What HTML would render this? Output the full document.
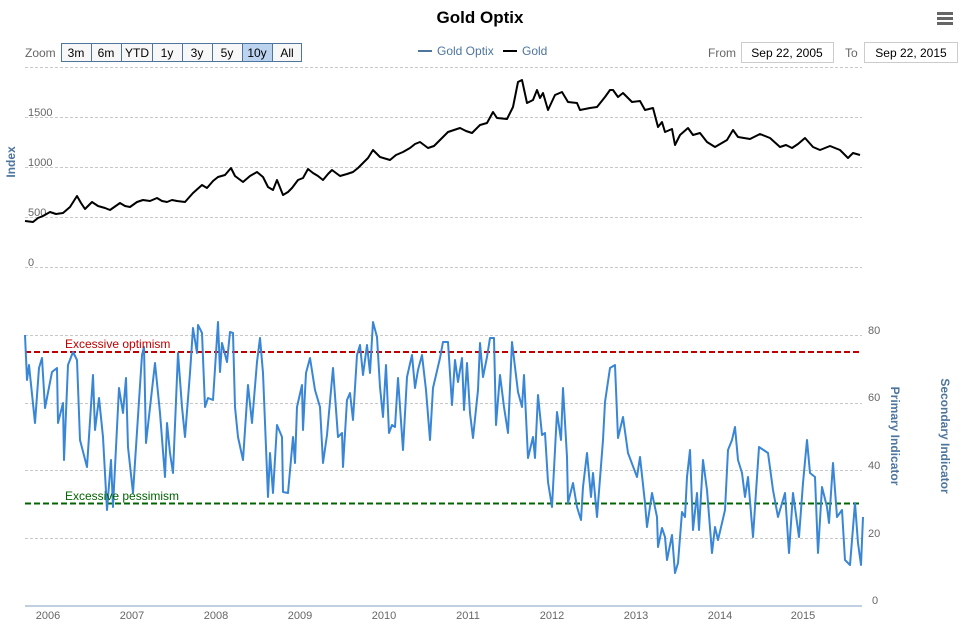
<!DOCTYPE html>
<html><head><meta charset="utf-8"><style>
body{margin:0;background:#fff;font-family:"Liberation Sans",Arial,sans-serif}
svg text{font-family:"Liberation Sans",Arial,sans-serif}
</style></head><body>
<svg width="962" height="626" xmlns="http://www.w3.org/2000/svg">
<rect width="962" height="626" fill="#fff"/>
<text x="480" y="23" text-anchor="middle" font-size="17" font-weight="bold" fill="#000">Gold Optix</text>
<g fill="#666"><rect x="937" y="12" width="16" height="3"/><rect x="937" y="17" width="16" height="3"/><rect x="937" y="22" width="16" height="3"/></g>
<text x="25" y="57" font-size="12" fill="#666">Zoom</text>
<g font-size="12" fill="#000" text-anchor="middle">
<rect x="61.5" y="43.5" width="240" height="18" fill="#f7f7f7" stroke="#4d759e"/>
<rect x="242" y="44" width="30" height="17" fill="#bcd3f0"/>
<g stroke="#4d759e"><line x1="91.5" y1="44" x2="91.5" y2="61"/><line x1="121.5" y1="44" x2="121.5" y2="61"/><line x1="152.5" y1="44" x2="152.5" y2="61"/><line x1="182.5" y1="44" x2="182.5" y2="61"/><line x1="212.5" y1="44" x2="212.5" y2="61"/><line x1="242.5" y1="44" x2="242.5" y2="61"/><line x1="272.5" y1="44" x2="272.5" y2="61"/></g>
<text x="76" y="57">3m</text><text x="106" y="57">6m</text><text x="137" y="57">YTD</text><text x="167" y="57">1y</text><text x="197" y="57">3y</text><text x="227" y="57">5y</text><text x="257" y="57">10y</text><text x="287" y="57">All</text>
</g>
<line x1="418" y1="51" x2="432" y2="51" stroke="#4d759e" stroke-width="2"/>
<text x="437" y="55" font-size="12" fill="#4d759e">Gold Optix</text>
<line x1="503" y1="51" x2="517" y2="51" stroke="#000" stroke-width="2"/>
<text x="522" y="55" font-size="12" fill="#4d759e">Gold</text>
<text x="708" y="57" font-size="12" fill="#666">From</text>
<rect x="741.5" y="42.5" width="92" height="20" fill="#fff" stroke="#ccc"/>
<text x="787" y="57" font-size="12" text-anchor="middle" fill="#000">Sep 22, 2005</text>
<text x="845" y="57" font-size="12" fill="#666">To</text>
<rect x="864.5" y="42.5" width="93" height="20" fill="#fff" stroke="#ccc"/>
<text x="911" y="57" font-size="12" text-anchor="middle" fill="#000">Sep 22, 2015</text>

<g stroke="#c8c8c8" stroke-dasharray="3,2" stroke-width="1">
<line x1="25" y1="67.5" x2="862" y2="67.5"/><line x1="25" y1="117.5" x2="862" y2="117.5"/><line x1="25" y1="167.5" x2="862" y2="167.5"/><line x1="25" y1="217.5" x2="862" y2="217.5"/><line x1="25" y1="267.5" x2="862" y2="267.5"/>
<line x1="25" y1="335.5" x2="862" y2="335.5"/><line x1="25" y1="403.5" x2="862" y2="403.5"/><line x1="25" y1="470.5" x2="862" y2="470.5"/><line x1="25" y1="538.5" x2="862" y2="538.5"/>
</g>
<line x1="25" y1="606" x2="862" y2="606" stroke="#c0d0e0" stroke-width="2"/>
<g font-size="11" fill="#666">
<text x="28" y="116">1500</text><text x="28" y="166">1000</text><text x="28" y="216">500</text><text x="28" y="266">0</text>
<text x="868" y="334">80</text><text x="868" y="401">60</text><text x="868" y="469">40</text><text x="868" y="537">20</text><text x="872" y="604">0</text>
</g>
<g font-size="11" fill="#666" text-anchor="middle">
<text x="48" y="619">2006</text><text x="132" y="619">2007</text><text x="216" y="619">2008</text><text x="300" y="619">2009</text><text x="384" y="619">2010</text><text x="468" y="619">2011</text><text x="552" y="619">2012</text><text x="636" y="619">2013</text><text x="720" y="619">2014</text><text x="803" y="619">2015</text>
</g>
<text transform="translate(15,162) rotate(-90)" text-anchor="middle" font-size="12" font-weight="bold" fill="#4d759e">Index</text>
<text transform="translate(891,436) rotate(90)" text-anchor="middle" font-size="12" font-weight="bold" fill="#4d759e">Primary Indicator</text>
<text transform="translate(941,436) rotate(90)" text-anchor="middle" font-size="12" font-weight="bold" fill="#4d759e">Secondary Indicator</text>

<line x1="25" y1="352" x2="862" y2="352" stroke="#c00000" stroke-width="2" stroke-dasharray="6,3"/>
<line x1="25" y1="503.5" x2="862" y2="503.5" stroke="#006400" stroke-width="2" stroke-dasharray="6,3"/>

<polyline id="optix" fill="none" stroke="#3a86d6" stroke-width="2" stroke-linejoin="round" points="25,335 27,380 29,365 35,423 39,368 42,358 45,408 52,372 57,368 58,423 63,403 64,460 68,365 73,352 77,360 80,440 87,467 93,375 95,430 99,398 103,437 107,510 111,460 113,507 119,388 123,413 126,378 128,447 133,493 142,355 144,347 146,443 155,363 160,413 165,477 167,423 170,453 173,473 178,353 182,407 185,437 190,373 193,328 197,353 198,325 202,333 205,407 208,398 213,400 218,322 220,372 222,343 227,362 230,332 233,333 235,407 238,437 243,460 248,385 252,423 257,362 260,338 263,373 268,497 270,453 273,493 277,425 282,437 283,492 288,493 293,437 295,463 297,407 302,385 303,430 306,373 310,358 315,390 320,407 323,463 327,435 333,368 338,437 342,433 343,467 347,400 350,393 353,420 357,355 360,345 363,375 367,345 370,373 373,322 377,337 380,387 383,417 386,365 389,433 392,425 395,427 398,378 403,450 407,377 412,355 415,388 418,370 422,355 426,390 430,440 433,388 440,358 443,342 448,342 452,405 455,360 458,382 462,358 464,410 467,363 470,413 473,438 478,390 480,343 483,377 487,357 490,338 494,338 496,425 500,375 504,407 508,433 512,342 518,392 522,407 524,375 528,458 533,437 535,458 538,395 542,435 545,433 548,482 552,507 555,450 557,412 561,440 563,388 567,457 568,503 573,483 577,507 581,520 583,487 587,453 591,497 593,473 597,517 603,440 605,402 610,368 615,365 618,438 623,417 628,453 637,477 640,457 645,503 647,527 652,493 657,517 658,547 662,528 665,537 667,560 672,535 675,573 678,563 682,512 685,517 687,477 690,450 693,530 697,493 699,530 703,460 707,490 712,553 715,527 718,540 722,523 725,510 728,450 732,440 735,427 738,460 742,473 745,497 748,477 753,537 759,447 768,453 773,490 778,517 785,493 789,553 793,493 799,537 803,483 807,440 810,473 815,477 818,553 822,487 827,507 829,523 833,463 837,517 842,510 845,560 850,565 855,503 858,543 861,565 863,517"/>

<polyline id="gold" fill="none" stroke="#000" stroke-width="2" stroke-linejoin="round" points="25,221 33,222 38,218 43,216 50,212 56,214 63,213 70,207 77,196 81,203 85,209 92,202 98,206 105,208 110,210 120,203 125,206 130,207 137,202 143,200 150,201 157,198 162,201 167,202 172,200 177,201 185,202 193,193 202,185 207,188 213,181 218,177 225,175 231,168 235,176 243,182 250,176 257,172 263,177 268,187 273,190 277,180 283,195 288,192 292,188 298,180 303,178 308,169 313,173 318,176 323,180 328,174 332,170 340,176 347,174 353,172 358,168 363,163 368,158 373,150 380,157 390,160 396,155 403,152 410,148 415,144 420,142 428,148 434,146 440,140 448,132 454,130 460,128 466,131 472,133 480,125 487,123 493,112 497,118 507,119 513,107 518,82 522,80 527,103 533,100 537,90 540,98 543,93 548,110 555,95 562,92 568,102 577,103 580,110 590,108 597,107 605,97 610,90 613,90 618,97 623,93 632,102 640,101 645,110 653,108 658,127 662,122 665,132 672,129 675,145 680,135 688,128 693,135 700,133 707,142 715,147 727,140 733,130 738,137 750,139 760,134 770,138 780,147 786,145 792,148 798,144 805,138 813,147 820,150 830,146 840,150 848,158 853,153 860,155"/>

<text x="65" y="348" font-size="12" fill="#c00000">Excessive optimism</text>
<text x="65" y="500" font-size="12" fill="#006400">Excessive pessimism</text>
<script>
(function(){
var s=12345;function r(){s=(s*1103515245+12345)%2147483648;return s/2147483648-0.5;}
function rough(id,amp,step){
var el=document.getElementById(id);
var p=el.getAttribute('points').trim().split(/\s+/).map(function(t){return t.split(',').map(Number);});
var out=[];
for(var i=0;i<p.length-1;i++){
var a=p[i],b=p[i+1];out.push(a[0]+','+a[1]);
var n=Math.floor((b[0]-a[0])/step);
for(var k=1;k<n;k++){var t=k/n;out.push((a[0]+(b[0]-a[0])*t).toFixed(1)+','+(a[1]+(b[1]-a[1])*t+r()*amp).toFixed(1));}
}
var l=p[p.length-1];out.push(l[0]+','+l[1]);
el.setAttribute('points',out.join(' '));
}
rough('optix',6,1.6);rough('gold',3,1.6);
})();
</script>
</svg>
</body></html>
